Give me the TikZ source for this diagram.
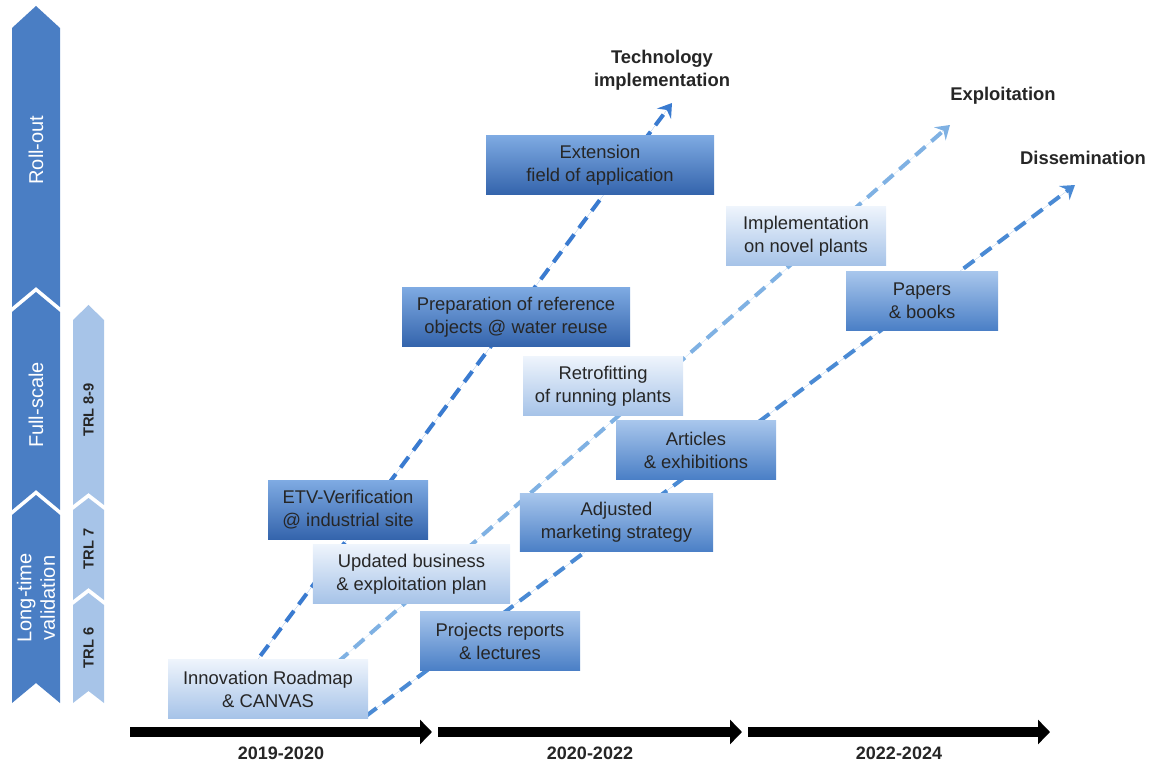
\documentclass[tikz,border=0pt]{standalone}
\usepackage{fontspec}
\setmainfont{Liberation Sans}
\usetikzlibrary{arrows.meta}

\definecolor{ink}{HTML}{262626}
\definecolor{phase}{HTML}{4A7EC4}
\definecolor{trl}{HTML}{A7C4E8}
\definecolor{dtop}{HTML}{7EAAE2}
\definecolor{dbot}{HTML}{3464AC}
\definecolor{mtop}{HTML}{A8C6EC}
\definecolor{mbot}{HTML}{4A7FC6}
\definecolor{ltop}{HTML}{EEF4FC}
\definecolor{lbot}{HTML}{A6C3E8}
\definecolor{techline}{HTML}{3A7BD0}
\definecolor{exploline}{HTML}{7FB1E3}
\definecolor{dissline}{HTML}{4A8AD4}

\newcommand{\boxfont}{\fontsize{13.8}{17.3}\selectfont}
\newcommand{\phasefont}{\fontsize{15}{17.5}\selectfont}

\begin{document}
\begin{tikzpicture}[x=.75pt,y=-.75pt,
  box/.style={minimum height=44pt,inner sep=0pt,align=center,text=ink,font=\boxfont},
  dark/.style={box,top color=dtop,bottom color=dbot},
  mid/.style={box,top color=mtop,bottom color=mbot},
  light/.style={box,top color=ltop,bottom color=lbot},
  trend/.style={line width=3pt,dash pattern=on 10pt off 6pt,-{Stealth[length=10pt,width=13pt,inset=3.5pt]}},
  period/.style={line width=7.5pt,-{Triangle[length=9pt,width=18pt]}},
  goal/.style={align=center,text=ink,font=\bfseries\boxfont},
]
\useasboundingbox (0,0) rectangle (1156,762);

% phases
\fill[phase] (12,28) -- (36,6) -- (60,28) -- (60,307) -- (36,287) -- (12,307) -- cycle;
\fill[phase] (12,312) -- (36,292) -- (60,312) -- (60,510) -- (36,490) -- (12,510) -- cycle;
\fill[phase] (12,515) -- (36,495) -- (60,515) -- (60,703) -- (36,683) -- (12,703) -- cycle;
\node[rotate=90,text=white,font=\phasefont] (rollout) at (36,150) {Roll-out};
\node[rotate=90,text=white,font=\phasefont] (fullscale) at (36,405) {Full-scale};
\node[rotate=90,text=white,align=center,font=\phasefont] (longtime) at (36,598) {Long-time\\validation};
% TRL levels
\fill[trl] (73,320) -- (88.5,305) -- (104,320) -- (104,505) -- (88.5,493) -- (73,505) -- cycle;
\fill[trl] (73,510) -- (88.5,498) -- (104,510) -- (104,600) -- (88.5,588) -- (73,600) -- cycle;
\fill[trl] (73,605) -- (88.5,593) -- (104,605) -- (104,703) -- (88.5,691) -- (73,703) -- cycle;
\node[rotate=90,text=ink,font=\bfseries\fontsize{11}{12}\selectfont] (trl89) at (88.5,410) {TRL 8-9};
\node[rotate=90,text=ink,font=\bfseries\fontsize{11}{12}\selectfont] (trl7) at (88.5,549) {TRL 7};
\node[rotate=90,text=ink,font=\bfseries\fontsize{11}{12}\selectfont] (trl6) at (88.5,648) {TRL 6};

% trend lines
\coordinate (t0) at (235,690);
\coordinate (t1) at (672,103);
\coordinate (e0) at (306,690);
\coordinate (e1) at (950,125);
\coordinate (d0) at (366,716);
\coordinate (d1) at (1075,185);
\draw[trend,draw=techline,fill=techline] (t0) -- (t1);
\draw[trend,draw=exploline,fill=exploline] (e0) -- (e1);
\draw[trend,draw=dissline,fill=dissline] (d0) -- (d1);

\node[goal] (tech) at (662,70) {Technology\\implementation};
\node[goal] (explo) at (1003,96) {Exploitation};
\node[goal] (diss) at (1083,158) {Dissemination};

% measures
\node[light,minimum width=150pt] (inno) at (268,689) {Innovation Roadmap\\\& CANVAS};
\node[dark,minimum width=120pt] (etv) at (348,510) {ETV-Verification\\@ industrial site};
\node[light,minimum width=148pt] (upd) at (411.5,574) {Updated business\\\& exploitation plan};
\node[mid,minimum width=120pt] (proj) at (500,641) {Projects reports\\\& lectures};
\node[mid,minimum width=145pt] (adj) at (616.5,522.5) {Adjusted\\marketing strategy};
\node[mid,minimum width=120pt] (art) at (696,450) {Articles\\\& exhibitions};
\node[light,minimum width=120pt] (retro) at (603,386) {Retrofitting\\of running plants};
\node[dark,minimum width=171pt] (prep) at (516,317) {Preparation of reference\\objects @ water reuse};
\node[light,minimum width=120pt] (impl) at (806,236) {Implementation\\on novel plants};
\node[mid,minimum width=114pt] (pap) at (922,301) {Papers\\\& books};
\node[dark,minimum width=171pt] (ext) at (600,165) {Extension\\field of application};

% time axis
\foreach \a/\b/\yr [count=\i] in {130/432/2019-2020,438/742/2020-2022,748/1050/2022-2024}{
\draw[period] (\a,732) -- (\b,732);
\node[text=ink,font=\bfseries\fontsize{13.5}{15}\selectfont] (yr\i) at ({(\a+\b)/2},753) {\yr};
}
\end{tikzpicture}
\end{document}
